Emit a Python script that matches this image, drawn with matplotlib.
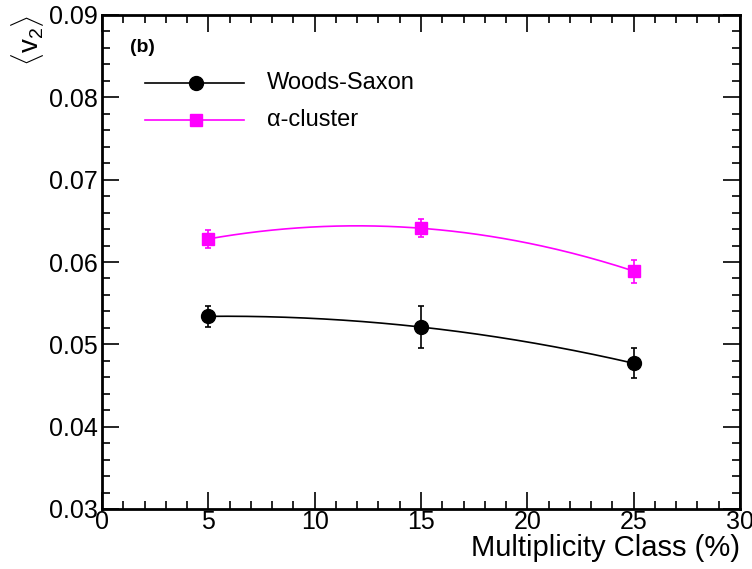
import matplotlib
matplotlib.use("Agg")
import matplotlib.pyplot as plt
import numpy as np
from matplotlib.ticker import MultipleLocator

plt.rcParams['font.family'] = ['Liberation Sans', 'DejaVu Sans']
plt.rcParams['mathtext.fontset'] = 'custom'
plt.rcParams['mathtext.rm'] = 'Liberation Sans'

# data
mult = [5, 15, 25]
ws_v2 = [0.0534, 0.0521, 0.0477]
ws_err = [0.0013, 0.0025, 0.0018]
ac_v2 = [0.0628, 0.0641, 0.0589]
ac_err = [0.0011, 0.0011, 0.0014]

fig = plt.figure(figsize=(7.52, 5.69), dpi=100)
ax = fig.add_axes([102/752, 60/569, 638/752, 494/569])

def smooth(x, y):
    # smooth curve through the points (like ROOT's "C" draw option)
    c = np.polyfit(x, y, 2)
    xs = np.linspace(min(x), max(x), 200)
    return xs, np.polyval(c, xs)

xs, ys = smooth(mult, ws_v2)
ax.plot(xs, ys, color='black', lw=1.2)
ax.errorbar(mult, ws_v2, yerr=ws_err, fmt='o', color='black', ms=10,
            elinewidth=1.2, capsize=2, capthick=1.2)

xs, ys = smooth(mult, ac_v2)
ax.plot(xs, ys, color='#ff00ff', lw=1.2)
ax.errorbar(mult, ac_v2, yerr=ac_err, fmt='s', color='#ff00ff', ms=9,
            elinewidth=1.2, capsize=2, capthick=1.2)

# legend drawn by hand, ROOT style
ax.plot([2.0, 6.7], [0.0817, 0.0817], color='black', lw=1.2)
ax.plot([4.4], [0.0817], 'o', color='black', ms=10)
ax.text(7.75, 0.0817, 'Woods-Saxon', fontsize=17, va='center')
ax.plot([2.0, 6.7], [0.0772, 0.0772], color='#ff00ff', lw=1.2)
ax.plot([4.4], [0.0772], 's', color='#ff00ff', ms=9)
ax.text(7.75, 0.0772, '\u03b1-cluster', fontsize=17, va='center')
ax.text(1.3, 0.0861, '(b)', fontsize=14, fontweight='bold', va='center')

ax.set_xlim(0, 30)
ax.set_ylim(0.03, 0.09)
ax.xaxis.set_major_locator(MultipleLocator(5))
ax.xaxis.set_minor_locator(MultipleLocator(1))
ax.yaxis.set_major_locator(MultipleLocator(0.01))
ax.yaxis.set_minor_locator(MultipleLocator(0.002))
ax.yaxis.set_major_formatter(plt.FuncFormatter(lambda v, p: '%.2f' % v))
ax.tick_params(which='both', direction='in', top=True, right=True, labelsize=18, width=1.2)
ax.tick_params(which='major', length=12)
ax.tick_params(which='minor', length=6)
ax.tick_params(axis='x', pad=1)
ax.tick_params(axis='y', pad=3)
for s in ax.spines.values():
    s.set_linewidth(2)

ax.set_xlabel('Multiplicity Class (%)', fontsize=21, loc='right', labelpad=0)
ax.set_ylabel(r'$\langle \mathrm{v}_2 \rangle$', fontsize=20, loc='top', labelpad=2)

fig.savefig('out.png', dpi=100)
